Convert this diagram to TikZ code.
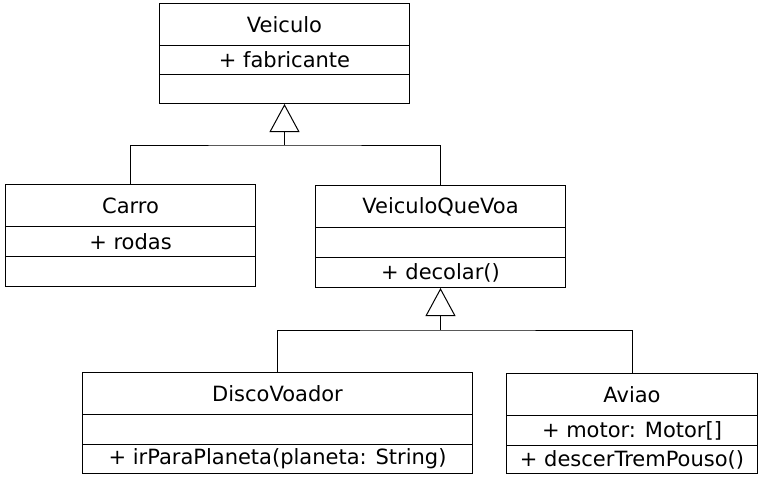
\documentclass[tikz,border=0pt]{standalone}
\usepackage{fontspec}
\setmainfont{DejaVu Sans}
\usetikzlibrary{arrows.meta}

\tikzset{
  part/.style={draw, line width=1pt, minimum width=#1, inner sep=0pt, anchor=north west,
    font=\fontsize{21}{24}\selectfont},
  head/.style={part=#1, minimum height=42pt},
  body/.style={part=#1, minimum height=30pt},
  inherit/.style={line width=1pt, -{Triangle[open, length=28pt, width=30pt]}},
  link/.style={line width=1pt}
}

\begin{document}
\begin{tikzpicture}[x=1pt, y=-1pt]
   \useasboundingbox (0,0) rectangle (762,479);
   % Veiculo
   \node[head=250pt] (veiculo) at (159,3) {Veiculo};
   \node[body=250pt, minimum height=29pt] (veiculo-attr) at (159,45) {+ fabricante};
   \node[body=250pt, minimum height=29pt] (veiculo-ops) at (159,74) {};
   % Carro
   \node[head=250pt] (carro) at (5,184) {Carro};
   \node[body=250pt] (carro-attr) at (5,226) {+ rodas};
   \node[body=250pt] (carro-ops) at (5,256) {};
   % VeiculoQueVoa
   \node[head=250pt] (voa) at (315,185) {VeiculoQueVoa};
   \node[body=250pt] (voa-attr) at (315,227) {};
   \node[body=250pt] (voa-ops) at (315,257) {+ decolar()};
   % DiscoVoador
   \node[head=390pt] (disco) at (82,372) {DiscoVoador};
   \node[body=390pt] (disco-attr) at (82,414) {};
   \node[body=390pt, minimum height=29pt] (disco-ops) at (82,444) {+ irParaPlaneta(planeta: String)};
   % Aviao
   \node[head=251pt] (aviao) at (506,373) {Aviao};
   \node[body=251pt] (aviao-attr) at (506,415) {+ motor: Motor[]};
   \node[body=251pt, minimum height=28pt] (aviao-ops) at (506,445) {+ descerTremPouso()};

   % heranca
   \coordinate (veiculo-j) at (veiculo-ops.south |- 0,145);
   \draw[link] (carro.north) |- (veiculo-j) -| (voa.north);
   \draw[inherit] (veiculo-j) -- (veiculo-ops.south);
   \coordinate (voa-j) at (voa-ops.south |- 0,330);
   \draw[link] (disco.north) |- (voa-j) -| (aviao.north);
   \draw[inherit] (voa-j) -- (voa-ops.south);
\end{tikzpicture}
\end{document}
